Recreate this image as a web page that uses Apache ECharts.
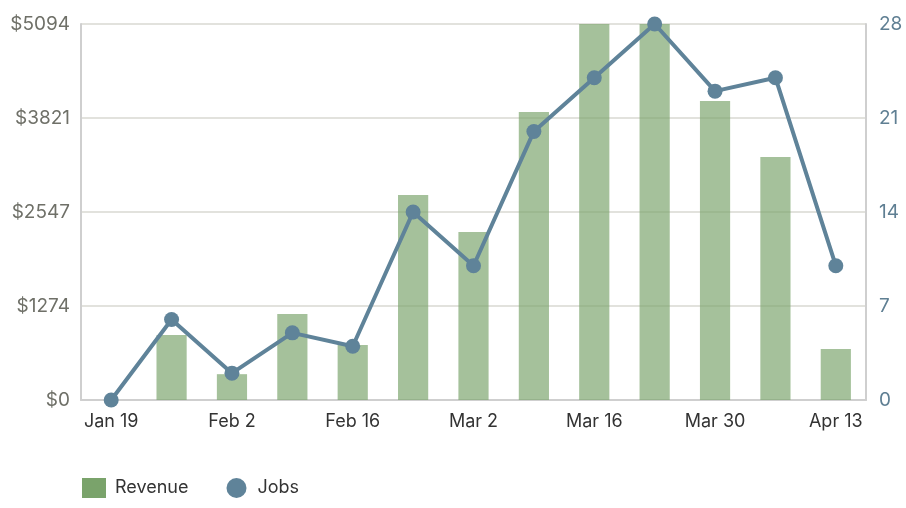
<!DOCTYPE html>
<html lang="en">

<head>
    <meta charset="UTF-8">
    <title>Revenue and Jobs</title>
    <script src="https://cdn.jsdelivr.net/npm/echarts@6.0.0/dist/echarts.min.js"></script>
    <style>
        body { margin: 0; background: #fff; }
    </style>
</head>

<body>
    <div id="main" style="width: 906px;height:508px;"></div>
    <script type="text/javascript">
        // weekly buckets
        const weeks = ['Jan 19', 'Jan 26', 'Feb 2', 'Feb 9', 'Feb 16', 'Feb 23', 'Mar 2',
            'Mar 9', 'Mar 16', 'Mar 23', 'Mar 30', 'Apr 6', 'Apr 13'];
        const revenue = [0, 880, 350, 1165, 745, 2778, 2276, 3902, 5094, 5094, 4051, 3292, 691];
        const jobs = [0, 6, 2, 5, 4, 14, 10, 20, 24, 28, 23, 24, 10];

        const revenueMax = 5094;
        const jobsMax = 28;

        const fontFamily = 'Inter, "Noto Sans", sans-serif';

        let options = {
            animation: false,
            textStyle: { fontFamily: fontFamily },
            grid: { left: 81, right: 40, top: 24, bottom: 108 },
            legend: {
                left: 82,
                top: 478,
                padding: 0,
                itemGap: 38,
                itemWidth: 24,
                itemHeight: 20,
                textStyle: { fontSize: 18, color: '#333', fontFamily: fontFamily, padding: [0, 0, 0, 4] },
                data: [
                    { name: 'Revenue', icon: 'rect', itemStyle: { color: '#7aa36b', opacity: 1 } },
                    { name: 'Jobs', icon: 'circle', itemStyle: { color: '#5f8399' } }
                ]
            },
            xAxis: {
                type: 'category',
                data: weeks,
                boundaryGap: true,
                axisLine: { lineStyle: { color: '#cfcfcf', width: 2 } },
                axisTick: { show: false },
                axisLabel: {
                    interval: 1,
                    color: '#333',
                    fontSize: 18,
                    margin: 13
                }
            },
            yAxis: [{
                type: 'value',
                min: 0,
                max: revenueMax,
                interval: revenueMax / 4,
                axisLine: { show: true, lineStyle: { color: '#cfcfcf', width: 2 } },
                axisTick: { show: false },
                splitLine: { lineStyle: { color: '#e2e2dd', width: 2 } },
                axisLabel: {
                    color: '#6f7068',
                    fontSize: 19,
                    margin: 11,
                    formatter: v => '$' + Math.round(v)
                }
            }, {
                type: 'value',
                min: 0,
                max: jobsMax,
                interval: 7,
                axisLine: { show: true, lineStyle: { color: '#cfcfcf', width: 2 } },
                axisTick: { show: false },
                splitLine: { show: false },
                axisLabel: {
                    color: '#5f7f93',
                    fontSize: 19,
                    margin: 13
                }
            }],
            series: [{
                name: 'Revenue',
                type: 'bar',
                yAxisIndex: 0,
                barWidth: '50%',
                itemStyle: { color: '#7aa36b', opacity: 0.68 },
                data: revenue
            }, {
                name: 'Jobs',
                type: 'line',
                yAxisIndex: 1,
                symbol: 'circle',
                symbolSize: 15,
                lineStyle: { color: '#5f8399', width: 4 },
                itemStyle: { color: '#5f8399' },
                data: jobs
            }]
        };

        let myChart = echarts.init(document.getElementById('main'));
        myChart.setOption(options);
    </script>
</body>

</html>
